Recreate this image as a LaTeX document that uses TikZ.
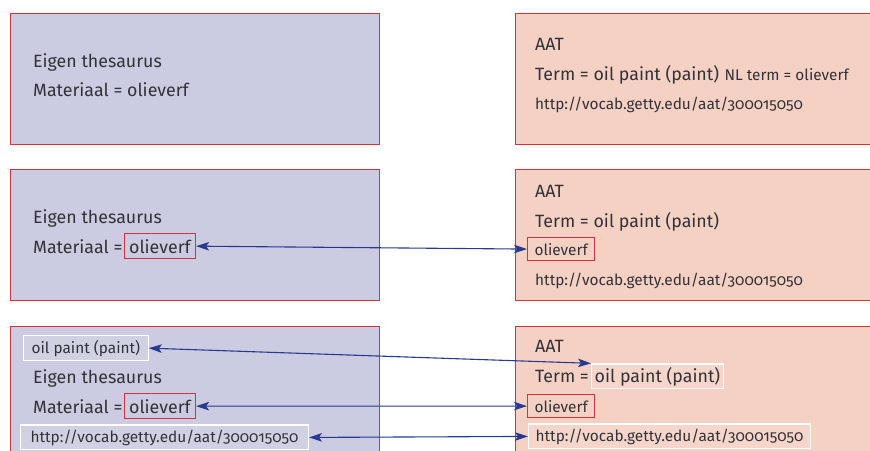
\documentclass[tikz,border=0pt]{standalone}
\usepackage{fontspec}
\setmainfont{Fira Sans}[Numbers=OldStyle]
\usetikzlibrary{
    arrows.meta,
    positioning
}
\definecolor{thesblue}{RGB}{203,203,225}
\definecolor{aatpink}{RGB}{245,209,196}
\definecolor{framered}{RGB}{217,48,60}
\definecolor{linkblue}{RGB}{38,58,145}
\definecolor{ink}{RGB}{50,50,56}

\begin{document}
\begin{tikzpicture}[
        x=1pt, y=-1pt,
        panel/.style={draw=framered, line width=1pt, anchor=north west, inner sep=0pt},
        big/.style={font=\fontsize{17.8}{21}\selectfont, text=ink, inner sep=0pt, anchor=base west},
        small/.style={font=\fontsize{15.4}{18}\selectfont, text=ink, inner sep=0pt, anchor=base west},
        redmark/.style={draw=framered, line width=1pt, inner xsep=5pt, inner ysep=5.5pt},
        tag/.style={draw=white, line width=1.2pt, fill=white, fill opacity=0.12, text opacity=1, inner xsep=8pt, inner ysep=4.5pt},
        arrow/.style={{Stealth[length=13pt,width=8.5pt,inset=3pt]}-{Stealth[length=13pt,width=8.5pt,inset=3pt]}, linkblue, line width=1.1pt}
    ]
        \useasboundingbox (0,0) rectangle (870,450);
        \clip (0,0) rectangle (870,450);

        % Panels
        \node[panel, fill=thesblue, minimum width=369, minimum height=131] (t1) at (10,13) {};
        \node[panel, fill=aatpink, minimum width=400, minimum height=131] (a1) at (515,13) {};
        \node[panel, fill=thesblue, minimum width=369, minimum height=131] (t2) at (10,169) {};
        \node[panel, fill=aatpink, minimum width=400, minimum height=131] (a2) at (515,169) {};
        \node[panel, fill=thesblue, minimum width=369, minimum height=160] (t3) at (10,326) {};
        \node[panel, fill=aatpink, minimum width=400, minimum height=160] (a3) at (515,326) {};

        % Row 1
        \node[big] (t1name) at (33,67) {Eigen thesaurus};
        \node[big] (t1mat) at (33,96) {Materiaal = olieverf};
        \node[big] (a1name) at (535,50) {AAT};
        \node[big] (a1term) at (535,80) {Term = oil paint (paint)};
        \node[small, base right=5pt of a1term] (a1nl) {NL term = olieverf};
        \node[small] (a1uri) at (535,109) {http://vocab.getty.edu/aat/300015050};

        % Row 2
        \node[big] (t2name) at (33,223) {Eigen thesaurus};
        \node[big] (t2mat) at (33,253) {Materiaal =};
        \node[big, redmark, base right=1pt of t2mat] (t2olie) {olieverf};
        \node[big] (a2name) at (535,197) {AAT};
        \node[big] (a2term) at (535,227) {Term = oil paint (paint)};
        \node[small, redmark, inner xsep=7pt] (a2olie) at (527,255) {olieverf};
        \node[small] (a2uri) at (535,285) {http://vocab.getty.edu/aat/300015050};

        % Row 3
        \node[small, tag] (t3term) at (23,353) {oil paint (paint)};
        \node[big] (t3name) at (33,383) {Eigen thesaurus};
        \node[big] (t3mat) at (33,413) {Materiaal =};
        \node[big, redmark, base right=1pt of t3mat] (t3olie) {olieverf};
        \node[small, tag, inner xsep=10pt] (t3uri) at (20,442) {http://vocab.getty.edu/aat/300015050};
        \node[big] (a3name) at (535,352) {AAT};
        \node[big] (a3term) at (535,382) {Term =};
        \node[big, tag, inner xsep=3pt, inner ysep=3pt, base right=2pt of a3term] (a3op) {oil paint (paint)};
        \node[small, redmark, inner xsep=7pt] (a3olie) at (527,412) {olieverf};
        \node[small, tag, inner xsep=7pt] (a3uri) at (528,441) {http://vocab.getty.edu/aat/300015050};

        % Arrows
        \draw[arrow] (t2olie.east) -- (a2olie.west);
        \draw[arrow] (t3term.east) -- (a3op.north west);
        \draw[arrow] (t3olie.east) -- (a3olie.west);
        \draw[arrow] (t3uri.east) -- (a3uri.west);
    \end{tikzpicture}
\end{document}
